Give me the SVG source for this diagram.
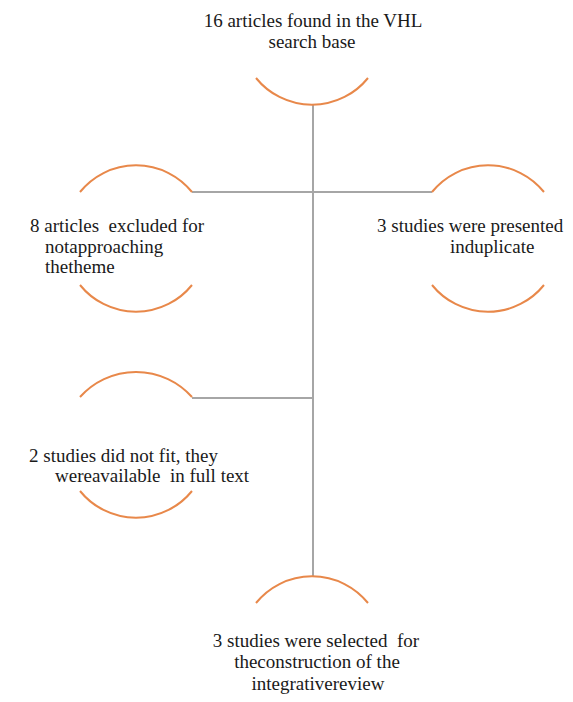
<svg xmlns="http://www.w3.org/2000/svg" width="573" height="702" viewBox="0 0 573 702">
<style>
  .arc { fill: none; stroke: #E8884A; stroke-width: 2; }
  .conn { fill: none; stroke: #A6A6A6; stroke-width: 2; }
  .c { text-anchor: middle; }
</style>
<rect width="573" height="702" fill="#ffffff"/>
<g id="connectors">
  <line class="conn" x1="313" y1="104" x2="313" y2="577"/>
  <line class="conn" x1="192" y1="192" x2="432" y2="192"/>
  <line class="conn" x1="192" y1="398" x2="313" y2="398"/>
</g>
<g font-family="Liberation Serif, serif" font-size="19" fill="#1a1a1a">
<g id="node-top">
  <text class="c" x="313" y="27">16 articles found in the VHL</text>
  <text class="c" x="312" y="48">search base</text>
  <path class="arc" d="M256,78 A72,72 0 0 0 368,78"/>
</g>
<g id="node-excluded">
  <path class="arc" d="M80,192 A72,72 0 0 1 192,192"/>
  <text x="30" y="232" xml:space="preserve">8 articles  excluded for</text>
  <text x="45" y="253">notapproaching</text>
  <text x="45" y="273">thetheme</text>
  <path class="arc" d="M80,285 A72,72 0 0 0 192,285"/>
</g>
<g id="node-duplicate">
  <path class="arc" d="M432,192 A72,72 0 0 1 544,192"/>
  <text x="377" y="232">3 studies were presented</text>
  <text x="450" y="253">induplicate</text>
  <path class="arc" d="M432,285 A72,72 0 0 0 544,285"/>
</g>
<g id="node-notfit">
  <path class="arc" d="M80,397 A75,75 0 0 1 192,397"/>
  <text x="29" y="462">2 studies did not fit, they</text>
  <text x="55" y="482" xml:space="preserve">wereavailable  in full text</text>
  <path class="arc" d="M80,491 A72,72 0 0 0 192,491"/>
</g>
<g id="node-selected">
  <path class="arc" d="M256,603 A72,72 0 0 1 368,603"/>
  <text class="c" x="316" y="647" xml:space="preserve">3 studies were selected  for</text>
  <text class="c" x="317" y="668">theconstruction of the</text>
  <text class="c" x="318" y="690">integrativereview</text>
</g>
</g>
</svg>
